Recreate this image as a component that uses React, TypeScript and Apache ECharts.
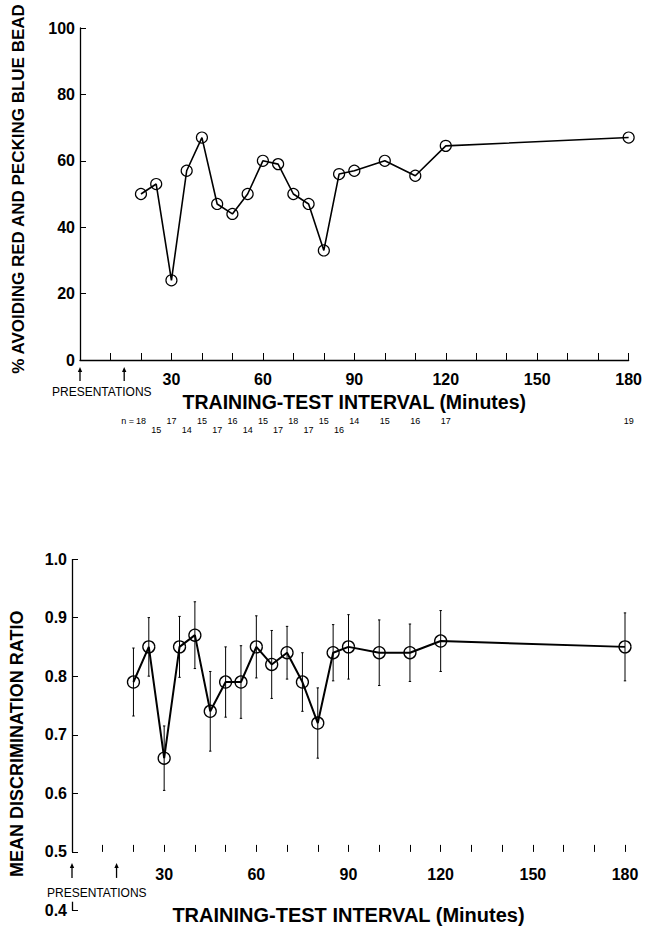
import React, { useEffect, useRef } from "react";
import * as echarts from "echarts";

// ---- data ----
const intervalsMin = [20, 25, 30, 35, 40, 45, 50, 55, 60, 65, 70, 75, 80, 85, 90, 100, 110, 120, 180];
const pctAvoidRed = [50, 53, 24, 57, 67, 47, 44, 50, 60, 59, 50, 47, 33, 56, 57, 60, 55.5, 64.5, 67];
const nSubjects = [18, 15, 17, 14, 15, 17, 16, 14, 15, 17, 18, 17, 15, 16, 14, 15, 16, 17, 19];
const meanRatio = [0.79, 0.85, 0.66, 0.85, 0.87, 0.74, 0.79, 0.79, 0.85, 0.82, 0.84, 0.79, 0.72, 0.84, 0.85, 0.84, 0.84, 0.86, 0.85];
const ratioSE = [0.058, 0.05, 0.055, 0.052, 0.057, 0.068, 0.06, 0.062, 0.053, 0.058, 0.045, 0.05, 0.06, 0.048, 0.055, 0.056, 0.049, 0.052, 0.058];
const presentationTimes = [0, 14.5];
const topYTicks = { min: 0, max: 100, interval: 20 };
const botYTicks = { min: 0.4, max: 1.0, interval: 0.1 };
const xTicks = { min: 0, max: 180, interval: 30 };

const FONT = '"Liberation Sans", Arial, Helvetica, sans-serif';
const INK = "#000";

function arrowRender(yBase: number, d0: number, d1: number) {
  return (params: any, api: any) => {
    const p = api.coord([api.value(0), yBase]);
    const x = p[0];
    const y = p[1];
    return {
      type: "group",
      children: [
        { type: "line", shape: { x1: x, y1: y + d0 + 3, x2: x, y2: y + d1 }, style: { stroke: INK, lineWidth: 1.3 } },
        { type: "polygon", shape: { points: [[x - 2.2, y + d0 + 5], [x, y + d0], [x + 2.2, y + d0 + 5]] }, style: { fill: INK } },
      ],
    };
  };
}

export default function App() {
  const ref = useRef<HTMLDivElement>(null);
  useEffect(() => {
    document.body.style.margin = "0";
    if (!ref.current) return;
    const chart = echarts.init(ref.current, null, { renderer: "svg" });

    const topData = intervalsMin.map((x, i) => [x, pctAvoidRed[i]]);
    const botData = intervalsMin.map((x, i) => [x, meanRatio[i]]);
    const errData = intervalsMin.map((x, i) => [x, meanRatio[i] - ratioSE[i], meanRatio[i] + ratioSE[i]]);
    const nData = intervalsMin.map((x, i) => [x, nSubjects[i], i]);

    const tickLabel = {
      color: INK,
      fontWeight: "bold" as const,
      fontSize: 16,
      fontFamily: FONT,
    };
    const xBase = (gridIndex: number, extra: any) => ({
      gridIndex,
      type: "value",
      min: xTicks.min,
      max: xTicks.max,
      interval: xTicks.interval,
      axisTick: { show: true, inside: true, length: 7, lineStyle: { color: INK, width: 1 } },
      minorTick: { show: true, splitNumber: 3, length: 7, lineStyle: { color: INK, width: 1 } },
      splitLine: { show: false },
      minorSplitLine: { show: false },
      name: "TRAINING-TEST INTERVAL (Minutes)",
      nameLocation: "middle",
      ...extra,
    });

    const option: any = {
      animation: false,
      backgroundColor: "#fff",
      grid: [
        { left: 80, right: 12, top: 28, bottom: 570 },
        { left: 70, right: 20, top: 559, bottom: 19.5 },
      ],
      xAxis: [
        xBase(0, {
          axisLine: { show: true, lineStyle: { color: INK, width: 1.3 } },
          axisLabel: { ...tickLabel, margin: 11, formatter: (v: number) => (v === 0 ? "" : String(v)) },
          nameGap: 32,
          nameTextStyle: { color: INK, fontWeight: "bold", fontSize: 19.5, fontFamily: FONT },
        }),
        xBase(1, {
          axisLine: { show: false },
          offset: -58.6,
          axisLabel: { ...tickLabel, margin: 15, formatter: (v: number) => (v === 0 ? "" : String(v)) },
          nameGap: 53,
          nameTextStyle: { color: INK, fontWeight: "bold", fontSize: 20, fontFamily: FONT },
        }),
      ],
      yAxis: [
        {
          gridIndex: 0,
          type: "value",
          ...topYTicks,
          axisLine: { show: true, lineStyle: { color: INK, width: 1.3 } },
          axisTick: { show: true, inside: true, length: 6, lineStyle: { color: INK } },
          splitLine: { show: false },
          axisLabel: { ...tickLabel, margin: 5 },
          name: "% AVOIDING RED AND PECKING BLUE BEAD",
          nameLocation: "middle",
          nameGap: 53,
          nameTextStyle: { color: INK, fontWeight: "bold", fontSize: 17, fontFamily: FONT, padding: [0, 0, 0, 10] },
        },
        {
          gridIndex: 1,
          type: "value",
          ...botYTicks,
          axisLine: { show: false },
          axisTick: { show: true, inside: true, length: 6, lineStyle: { color: INK } },
          splitLine: { show: false },
          axisLabel: { ...tickLabel, margin: 5, formatter: (v: number) => v.toFixed(1) },
          name: "MEAN DISCRIMINATION RATIO",
          nameLocation: "middle",
          nameGap: 46,
          nameTextStyle: { color: INK, fontWeight: "bold", fontSize: 18, fontFamily: FONT, padding: [0, 18, 0, 0] },
        },
      ],
      graphic: [
        { type: "text", left: 52, top: 386, style: { text: "PRESENTATIONS", fill: INK, fontSize: 12, fontFamily: FONT } },
        { type: "text", left: 47, top: 887, style: { text: "PRESENTATIONS", fill: INK, fontSize: 12, fontFamily: FONT } },
      ],
      series: [
        {
          type: "line",
          xAxisIndex: 0,
          yAxisIndex: 0,
          data: topData,
          symbol: "circle",
          symbolSize: 11,
          lineStyle: { color: INK, width: 1.6 },
          itemStyle: { color: "rgba(255,255,255,0)", borderColor: INK, borderWidth: 1.2 },
          z: 3,
        },
        {
          type: "custom",
          xAxisIndex: 0,
          yAxisIndex: 0,
          data: nData,
          clip: false,
          silent: true,
          renderItem: (params: any, api: any) => {
            const idx = api.value(2);
            const p = api.coord([api.value(0), topYTicks.min]);
            const lower = idx < 15 && idx % 2 === 1;
            const y = p[1] + (lower ? 70 : 61);
            const children: any[] = [
              {
                type: "text",
                style: { text: String(api.value(1)), x: p[0], y, align: "center", verticalAlign: "middle", fontSize: 9, fontFamily: FONT, fill: INK },
              },
            ];
            if (idx === 0) {
              children.push({
                type: "text",
                style: { text: "n =", x: p[0] - 7, y, align: "right", verticalAlign: "middle", fontSize: 9, fontFamily: FONT, fill: INK },
              });
            }
            return { type: "group", children };
          },
        },
        {
          type: "custom",
          xAxisIndex: 0,
          yAxisIndex: 0,
          data: presentationTimes.map((t) => [t, topYTicks.min]),
          clip: false,
          silent: true,
          renderItem: arrowRender(topYTicks.min, 7, 21),
        },
        {
          type: "custom",
          xAxisIndex: 1,
          yAxisIndex: 1,
          data: errData,
          clip: false,
          silent: true,
          encode: { x: 0, y: [1, 2] },
          renderItem: (params: any, api: any) => {
            const x = api.value(0);
            const lo = api.coord([x, api.value(1)]);
            const hi = api.coord([x, api.value(2)]);
            return {
              type: "group",
              children: [
                { type: "line", shape: { x1: lo[0], y1: lo[1], x2: hi[0], y2: hi[1] }, style: { stroke: INK, lineWidth: 1 } },
                { type: "line", shape: { x1: lo[0] - 1.2, y1: lo[1], x2: lo[0] + 1.2, y2: lo[1] }, style: { stroke: INK, lineWidth: 1 } },
                { type: "line", shape: { x1: hi[0] - 1.2, y1: hi[1], x2: hi[0] + 1.2, y2: hi[1] }, style: { stroke: INK, lineWidth: 1 } },
              ],
            };
          },
          z: 2,
        },
        {
          type: "line",
          xAxisIndex: 1,
          yAxisIndex: 1,
          data: botData,
          symbol: "circle",
          symbolSize: 12,
          lineStyle: { color: INK, width: 2 },
          itemStyle: { color: "rgba(255,255,255,0)", borderColor: INK, borderWidth: 1.3 },
          z: 3,
          markLine: {
            silent: true,
            symbol: ["none", "none"],
            label: { show: false },
            lineStyle: { color: INK, width: 1.3, type: "solid" },
            data: [
              [{ coord: [xTicks.min, botYTicks.max] }, { coord: [xTicks.min, 0.5] }],
              [{ coord: [xTicks.min, botYTicks.min] }, { coord: [xTicks.min, 0.415] }],
            ],
          },
        },
        {
          type: "custom",
          xAxisIndex: 1,
          yAxisIndex: 1,
          data: presentationTimes.map((t) => [t, 0.5]),
          clip: false,
          silent: true,
          renderItem: arrowRender(0.5, 11, 26),
        },
      ],
    };
    chart.setOption(option);
    return () => chart.dispose();
  }, []);
  return <div ref={ref} style={{ width: 645, height: 930 }} />;
}
